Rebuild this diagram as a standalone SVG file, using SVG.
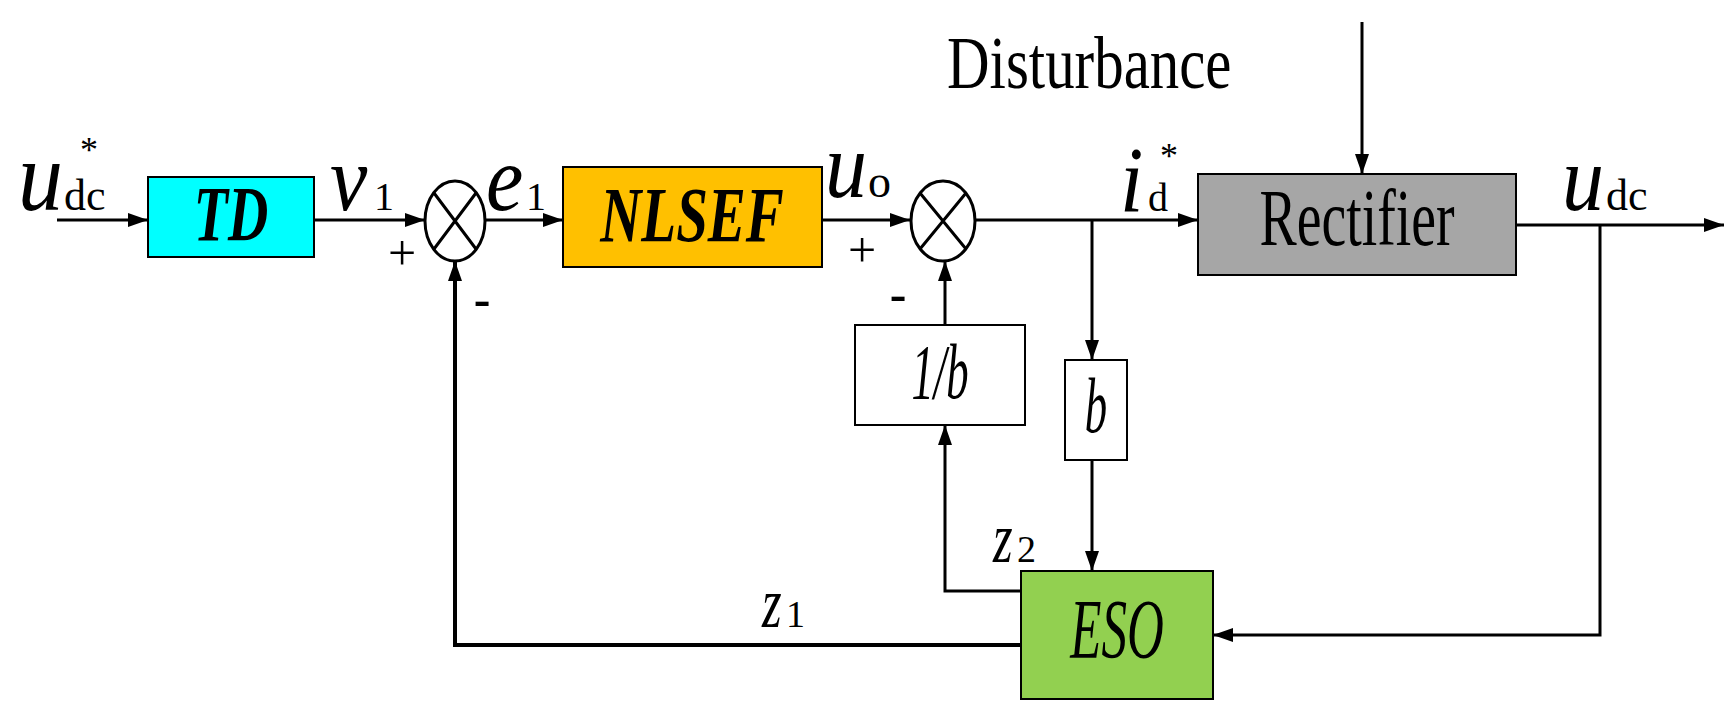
<svg xmlns="http://www.w3.org/2000/svg" width="1730" height="723" viewBox="0 0 1730 723">
<style>
.ln{stroke:#000;stroke-width:3;fill:none}
.bx{stroke:#000;stroke-width:2}
.v{font-family:"Liberation Serif",serif;font-style:italic}
.r{font-family:"Liberation Serif",serif}
</style>
<defs>
<marker id="b" markerWidth="20" markerHeight="14" refX="20" refY="7" orient="auto" markerUnits="userSpaceOnUse" viewBox="0 0 20 14"><path d="M0,0L20,7L0,14z"/></marker>
</defs>
<rect width="1730" height="723" fill="#fff"/>
<g id="connectors">
<path class="ln" d="M57,220H148" marker-end="url(#b)"/>
<path class="ln" d="M314,220H425" marker-end="url(#b)"/>
<path class="ln" d="M486,220H563" marker-end="url(#b)"/>
<path class="ln" d="M822,220H910" marker-end="url(#b)"/>
<path class="ln" d="M976,220H1198" marker-end="url(#b)"/>
<path class="ln" d="M1362,22V174" marker-end="url(#b)"/>
<path class="ln" d="M1516,225H1724" marker-end="url(#b)"/>
<path class="ln" d="M1092,220V360" marker-end="url(#b)"/>
<path class="ln" d="M1092,460V571" marker-end="url(#b)"/>
<path class="ln" d="M1600,225V635H1213" marker-end="url(#b)"/>
<path class="ln" d="M1021,591H945V425" marker-end="url(#b)"/>
<path class="ln" d="M945,325V261" marker-end="url(#b)"/>
<path class="ln" style="stroke-width:4" d="M1021,645H455V261" marker-end="url(#b)"/>
</g>
<g id="TD"><rect class="bx" x="148" y="177" width="166" height="80" fill="#00ffff"/><text class="v" font-size="62" font-weight="bold" text-anchor="middle" transform="translate(231,240) scale(0.9,1.25)">TD</text></g>
<g id="sum1"><ellipse cx="455" cy="221" rx="30" ry="40" class="ln"/><path class="ln" d="M434,193L476,249M476,193L434,249"/></g>
<g id="NLSEF"><rect class="bx" x="563" y="167" width="259" height="100" fill="#ffc000"/><text class="v" font-size="60" font-weight="bold" text-anchor="middle" transform="translate(692,241) scale(0.95,1.3)">NLSEF</text></g>
<g id="sum2"><ellipse cx="943" cy="221" rx="32" ry="40" class="ln"/><path class="ln" d="M920,193L966,249M966,193L920,249"/></g>
<g id="Rectifier"><rect class="bx" x="1198" y="174" width="318" height="101" fill="#a6a6a6"/><text class="r" font-size="62" text-anchor="middle" transform="translate(1357,245) scale(0.9,1.3)">Rectifier</text></g>
<g id="inv_b"><rect class="bx" x="855" y="325" width="170" height="100" fill="#fff"/><text class="v" font-size="56" text-anchor="middle" transform="translate(940,398) scale(0.8,1.4)">1/b</text></g>
<g id="gain_b"><rect class="bx" x="1065" y="360" width="62" height="100" fill="#fff"/><text class="v" font-size="56" text-anchor="middle" transform="translate(1096,432) scale(0.8,1.4)">b</text></g>
<g id="ESO"><rect class="bx" x="1021" y="571" width="192" height="128" fill="#92d050"/><text class="v" font-size="60" text-anchor="middle" transform="translate(1117,658) scale(0.85,1.4)">ESO</text></g>
<g id="labels">
<text class="v" font-size="90" transform="translate(18,210) scale(1,1.1)">u</text><text class="r" x="64" y="210" font-size="44">dc</text><text class="r" x="80" y="162" font-size="36">*</text>
<text class="v" font-size="84" transform="translate(330,210) scale(1,1.1)">v</text><text class="r" x="374" y="210" font-size="40">1</text>
<text class="v" font-size="84" transform="translate(486,210) scale(1,1.1)">e</text><text class="r" x="526" y="210" font-size="40">1</text>
<text class="v" font-size="84" transform="translate(825,197) scale(1,1.1)">u</text><text class="r" x="868" y="197" font-size="46">o</text>
<text class="v" font-size="84" transform="translate(1120,211) scale(1,1.1)">i</text><text class="r" x="1148" y="211" font-size="40">d</text><text class="r" x="1160" y="168" font-size="36">*</text>
<text class="v" font-size="84" transform="translate(1562,210) scale(1,1.1)">u</text><text class="r" x="1606" y="210" font-size="44">dc</text>
<text class="r" font-size="62" transform="translate(947,88) scale(0.95,1.2)">Disturbance</text>
<text class="v" font-size="56" transform="translate(993,562) scale(0.9,1.3)">z</text><text class="r" x="1017" y="562" font-size="38">2</text>
<text class="v" font-size="56" transform="translate(762,627) scale(0.9,1.3)">z</text><text class="r" x="786" y="627" font-size="38">1</text>
<text class="r" x="402" y="270" font-size="50" text-anchor="middle">+</text>
<text class="r" x="482" y="316" font-size="50" font-weight="bold" text-anchor="middle">-</text>
<text class="r" x="862" y="267" font-size="50" text-anchor="middle">+</text>
<text class="r" x="898" y="311" font-size="50" font-weight="bold" text-anchor="middle">-</text>
</g>
</svg>
